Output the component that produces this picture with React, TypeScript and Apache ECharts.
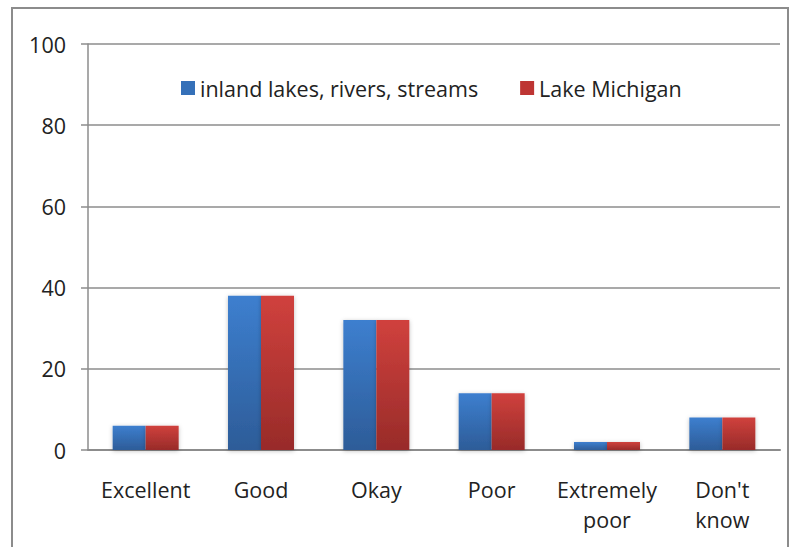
import React, { useEffect, useRef } from "react";
import * as echarts from "echarts";

const categories = ["Excellent", "Good", "Okay", "Poor", "Extremely\npoor", "Don't\nknow"];
const inlandValues = [6, 38, 32, 14, 2, 8];
const michiganValues = [6, 38, 32, 14, 2, 8];
const seriesNames = ["inland lakes, rivers, streams", "Lake Michigan"];

const FONT = "'Open Sans', Lato, sans-serif";
const FONT_SIZE = 21.5;
const TEXT_COLOR = "#222222";

const blueFill = new echarts.graphic.LinearGradient(0, 0, 0, 1, [
  { offset: 0, color: "#3d7fcf" },
  { offset: 1, color: "#2d5c98" },
]);
const redFill = new echarts.graphic.LinearGradient(0, 0, 0, 1, [
  { offset: 0, color: "#d0413d" },
  { offset: 1, color: "#982b29" },
]);

export default function App() {
  const ref = useRef<HTMLDivElement>(null);

  useEffect(() => {
    if (!ref.current) return;
    const chart = echarts.init(ref.current, null, { renderer: "svg" });
    chart.setOption({
      animation: false,
      backgroundColor: "#ffffff",
      graphic: [
        {
          type: "rect",
          shape: { x: 12, y: 8, width: 776, height: 560 },
          style: { fill: "none", stroke: "#8c8c8c", lineWidth: 2 },
          silent: true,
          z: -1,
        },
      ],
      legend: {
        left: 176,
        top: 72,
        itemWidth: 14,
        itemHeight: 14,
        itemGap: 42,
        icon: "rect",
        textStyle: { fontFamily: FONT, fontSize: FONT_SIZE, color: TEXT_COLOR },
        data: [
          { name: seriesNames[0], itemStyle: { color: "#3570b8" } },
          { name: seriesNames[1], itemStyle: { color: "#be3533" } },
        ],
      },
      grid: { left: 88, right: 10, top: 44, bottom: 97 },
      xAxis: {
        type: "category",
        data: categories,
        axisLine: { lineStyle: { color: "#8c8c8c", width: 2 } },
        axisTick: { show: false },
        axisLabel: {
          fontFamily: FONT,
          fontSize: FONT_SIZE,
          color: TEXT_COLOR,
          margin: 24,
          lineHeight: 30,
          interval: 0,
        },
      },
      yAxis: {
        type: "value",
        min: 0,
        max: 100,
        interval: 20,
        axisLine: { show: true, lineStyle: { color: "#8c8c8c", width: 1.5 } },
        axisTick: { show: true, length: 7, lineStyle: { color: "#8c8c8c", width: 1.5 } },
        splitLine: { lineStyle: { color: "#8c8c8c", width: 1.5 } },
        axisLabel: { fontFamily: FONT, fontSize: FONT_SIZE, color: TEXT_COLOR, margin: 22 },
      },
      series: [
        {
          name: seriesNames[0],
          type: "bar",
          data: inlandValues,
          barWidth: 33,
          barGap: "0%",
          itemStyle: {
            color: blueFill,
            shadowColor: "rgba(0,0,0,0.25)",
            shadowBlur: 4,
            shadowOffsetY: 1,
          },
        },
        {
          name: seriesNames[1],
          type: "bar",
          data: michiganValues,
          barWidth: 33,
          barGap: "0%",
          itemStyle: {
            color: redFill,
            shadowColor: "rgba(0,0,0,0.25)",
            shadowBlur: 4,
            shadowOffsetY: 1,
          },
        },
      ],
    });
    return () => chart.dispose();
  }, []);

  return <div ref={ref} style={{ width: 790, height: 547, position: "absolute", left: 0, top: 0 }} />;
}
